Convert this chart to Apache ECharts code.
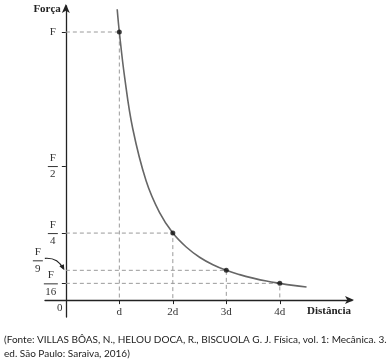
<!DOCTYPE html>
<html>
<head>
<meta charset="utf-8">
<script src="https://cdn.jsdelivr.net/npm/echarts@6/dist/echarts.min.js"></script>
<style>html,body{margin:0;padding:0;background:#fff}#c{width:391px;height:364px}</style>
</head>
<body>
<div id="c"></div>
<script>
// Curve F(d) (distance in units of d, force in units of F)
const curveX = [0.96, 1.0, 1.1, 1.25, 1.5, 1.75, 2.0, 2.25, 2.5, 2.75, 3.0, 3.25, 3.5, 3.75, 4.0, 4.25, 4.5];
const curveY = [1.085, 1.0, 0.83, 0.64, 0.445, 0.327, 0.25, 0.198, 0.16, 0.132, 0.111, 0.095, 0.082, 0.071, 0.0625, 0.055, 0.049];
// Marked points
const pointX = [1, 2, 3, 4];
const pointY = [1, 0.25, 0.1111, 0.0625];
// Tick labels
const xTickValues = [1, 2, 3, 4];
const xTickLabels = ['d', '2d', '3d', '4d'];
const yTickValues = [1, 0.5, 0.25, 0.0625];
const yTickDenoms = ['', '2', '4', '16'];
const f9Value = 1 / 9;
const f9Denom = '9';
const captionLines = [
  '(Fonte: VILLAS BÔAS, N., HELOU DOCA, R., BISCUOLA G. J. Física, vol. 1: Mecânica. 3.',
  'ed. São Paulo: Saraiva, 2016)'
];

const SERIF = '"Liberation Serif", "DejaVu Serif", serif';
const AX = '#222';
const TXT = '#333';
const X_MIN = -0.39, X_MAX = 5.35, Y_MIN = -0.063, Y_MAX = 1.097;

const curveData = curveX.map((x, i) => [x, curveY[i]]);
const pointData = pointX.map((x, i) => [x, pointY[i]]);
const guideSeries = pointX.map((x, i) => ({
  type: 'line',
  data: [[0, pointY[i]], [x, pointY[i]], [x, 0]],
  symbol: 'none',
  silent: true,
  lineStyle: { color: '#9a9a9a', width: 1, type: [4, 3] },
  z: 1
}));

const chart = echarts.init(document.getElementById('c'), null, { renderer: 'canvas' });
chart.setOption({
  animation: false,
  grid: { left: 45, right: 39, top: 6, bottom: 47, containLabel: false },
  xAxis: {
    type: 'value', min: X_MIN, max: X_MAX,
    axisLine: { onZero: false, symbol: ['none', 'arrow'], symbolSize: [6, 9], symbolOffset: [0, 2], lineStyle: { color: AX, width: 1.3 } },
    axisTick: { show: true, customValues: xTickValues, length: 4, lineStyle: { color: AX } },
    axisLabel: {
      customValues: xTickValues, margin: 6,
      formatter: v => xTickLabels[xTickValues.indexOf(v)] || '',
      fontFamily: SERIF, fontSize: 11, color: TXT
    },
    splitLine: { show: false }
  },
  yAxis: {
    type: 'value', min: Y_MIN, max: Y_MAX,
    axisLine: { onZero: false, symbol: ['none', 'arrow'], symbolSize: [6, 9], symbolOffset: [0, 2], lineStyle: { color: AX, width: 1.3 } },
    axisTick: { show: true, customValues: yTickValues, length: 4, lineStyle: { color: AX } },
    axisLabel: { show: false },
    splitLine: { show: false }
  },
  series: [
    ...guideSeries,
    {
      type: 'line', data: curveData, smooth: 0.4, symbol: 'none',
      lineStyle: { color: '#666', width: 1.6 }, z: 3, silent: true
    },
    {
      type: 'scatter', data: pointData, symbolSize: 5,
      itemStyle: { color: '#111' }, z: 4, silent: true
    }
  ]
});

// Move the axes so they cross at the origin (0, 0)
const gridRect = chart.getModel().getComponent('grid').coordinateSystem.getRect();
const origin = chart.convertToPixel({ gridIndex: 0 }, [0, 0]);
chart.setOption({
  xAxis: { offset: -(gridRect.y + gridRect.height - origin[1]) },
  yAxis: { offset: -(origin[0] - gridRect.x) }
});

const yTop = chart.convertToPixel({ gridIndex: 0 }, [0, Y_MAX]);
const xEnd = chart.convertToPixel({ gridIndex: 0 }, [X_MAX, 0]);

function fracGraphic(cx, cy, den) {
  const t = { fontFamily: SERIF, fontSize: 11, fill: TXT, align: 'center', verticalAlign: 'middle' };
  if (!den) return [{ type: 'text', x: cx, y: cy, style: Object.assign({ text: 'F' }, t) }];
  const w = den.length > 1 ? 14 : 10;
  return [
    { type: 'text', x: cx, y: cy - 8, style: Object.assign({ text: 'F' }, t) },
    { type: 'line', shape: { x1: cx - w / 2, y1: cy + 0.5, x2: cx + w / 2, y2: cy + 0.5 }, style: { stroke: TXT, lineWidth: 1 } },
    { type: 'text', x: cx, y: cy + 8.5, style: Object.assign({ text: den }, t) }
  ];
}

const gfx = [];
yTickValues.forEach((v, i) => {
  const p = chart.convertToPixel({ gridIndex: 0 }, [0, v]);
  const den = yTickDenoms[i];
  const cx = p[0] - (den.length > 1 ? 15 : 13);
  gfx.push(...fracGraphic(cx, p[1], den));
});
const f9 = chart.convertToPixel({ gridIndex: 0 }, [0, f9Value]);
gfx.push(...fracGraphic(f9[0] - 28, f9[1] - 10, f9Denom));
gfx.push(
  { type: 'bezierCurve', shape: { x1: f9[0] - 21, y1: f9[1] - 12, cpx1: f9[0] - 8, cpy1: f9[1] - 13, x2: f9[0] - 3, y2: f9[1] - 2 }, style: { stroke: '#222', lineWidth: 1.2, fill: null } },
  { type: 'polygon', shape: { points: [[f9[0] - 1.5, f9[1]], [f9[0] - 6.5, f9[1] - 4], [f9[0] - 2, f9[1] - 6]] }, style: { fill: '#222' } },
  { type: 'text', x: origin[0] - 6, y: origin[1] + 8, style: { text: '0', fontFamily: SERIF, fontSize: 11, fill: TXT, align: 'center', verticalAlign: 'middle' } },
  { type: 'text', x: origin[0] - 5, y: yTop[1] + 3, style: { text: 'Força', fontFamily: SERIF, fontWeight: 'bold', fontSize: 11, fill: '#222', align: 'right', verticalAlign: 'middle' } },
  { type: 'text', x: xEnd[0] - 1, y: origin[1] + 11, style: { text: 'Distância', fontFamily: SERIF, fontWeight: 'bold', fontSize: 11, fill: '#222', align: 'right', verticalAlign: 'middle' } },
  { type: 'text', x: 4, y: 340, style: { text: captionLines[0], fontFamily: 'Lato, "Noto Sans", sans-serif', fontSize: 10, fill: '#222', verticalAlign: 'middle' } },
  { type: 'text', x: 4, y: 354, style: { text: captionLines[1], fontFamily: 'Lato, "Noto Sans", sans-serif', fontSize: 10, fill: '#222', verticalAlign: 'middle' } }
);
chart.setOption({ graphic: gfx });
</script>
</body>
</html>
